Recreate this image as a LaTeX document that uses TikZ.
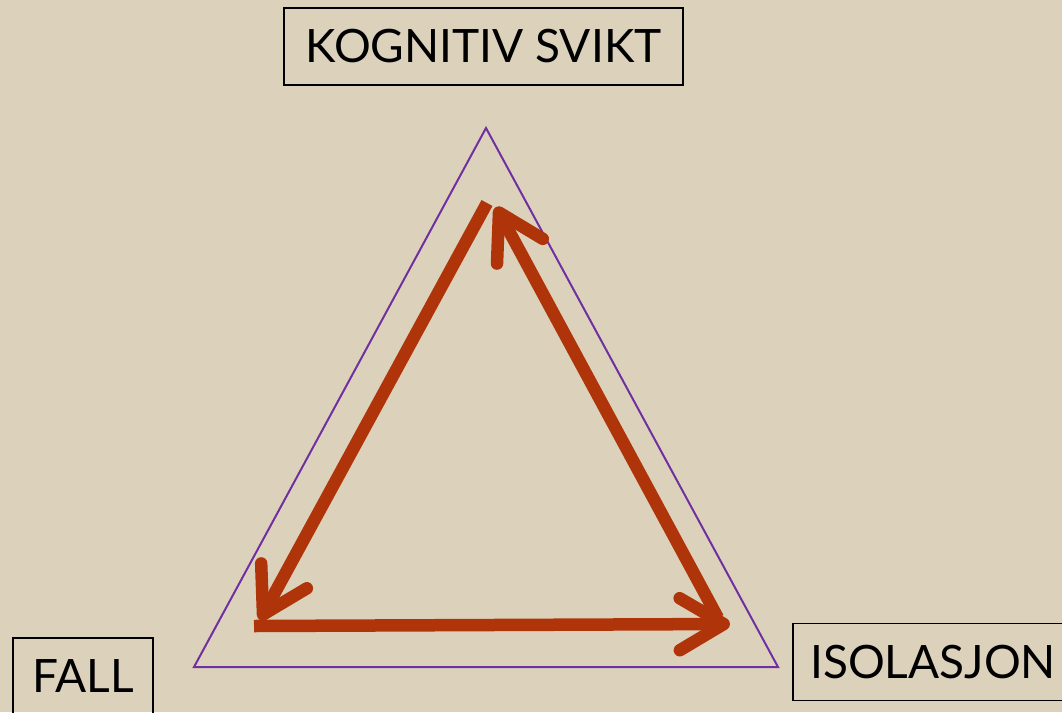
\documentclass[tikz,border=0pt]{standalone}
\usepackage{fontspec}
\setmainfont{Lato}
\usetikzlibrary{arrows.meta}
\definecolor{sandbg}{RGB}{220,210,188}
\definecolor{cyclered}{RGB}{176,52,10}
\definecolor{trianglepurple}{RGB}{112,48,160}

\begin{document}
\begin{tikzpicture}[x=1pt,y=-1pt,
 box/.style={draw=black,line width=1.5pt,minimum height=77pt,inner sep=0pt,
 font=\fontsize{46}{50}\selectfont},
 cyc/.style={draw=cyclered,line width=12.5pt,
 -{Straight Barb[length=44pt,width=52pt,round]}}]
 \clip (0,0) rectangle (1062,712);
 \fill[sandbg] (0,0) rectangle (1062,712);
 % labels
 \node[box,minimum width=399pt] (kog) at (483.5,46.5) {KOGNITIV SVIKT};
 \node[box,minimum width=140pt] (fall) at (83,676.5) {FALL};
 \node[box,minimum width=280pt] (iso) at (933,662) {ISOLASJON};
 % outer triangle
 \coordinate (apex) at (486,128);
 \coordinate (lcorner) at (194,667);
 \coordinate (rcorner) at (778,667);
 \draw[trianglepurple,line width=2pt] (apex)--(lcorner)--(rcorner)--cycle;
 % arrow ends
 \coordinate (topL) at (487,203);
 \coordinate (topR) at (496,207);
 \coordinate (botL) at (260,620);
 \coordinate (botLs) at (254,626);
 \coordinate (botR) at (730,624);
 \coordinate (botRs) at (718,618);
 \draw[cyc] (topL)--(botL);
 \draw[cyc] (botLs)--(botR);
 \draw[cyc] (botRs)--(topR);
\end{tikzpicture}
\end{document}
